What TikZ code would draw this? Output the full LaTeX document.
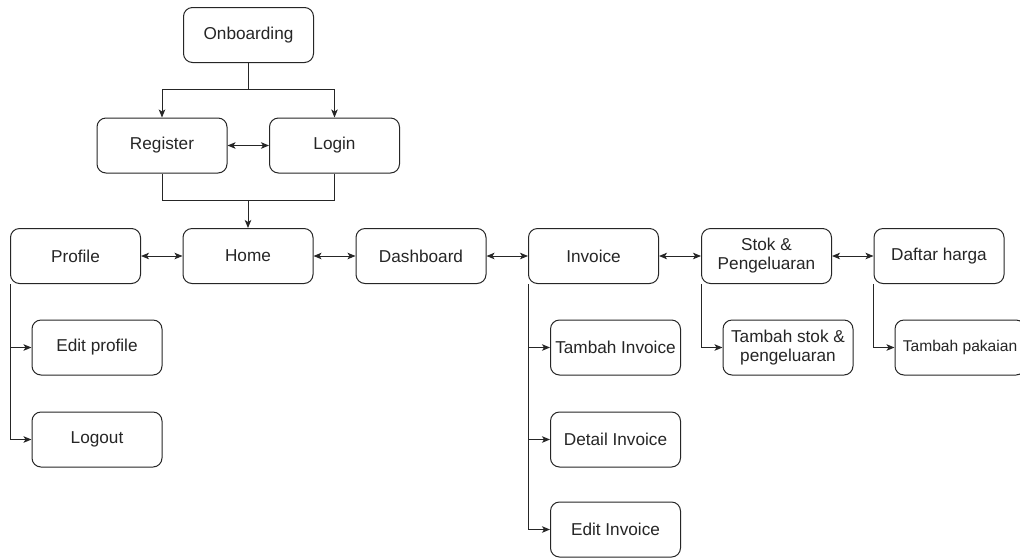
\documentclass[tikz,border=0pt]{standalone}
\usepackage{fontspec}
\setmainfont{Liberation Sans}
\usetikzlibrary{arrows.meta}
\begin{document}
\begin{tikzpicture}[x=1pt,y=-1pt,
  box/.style={draw=black!85, line width=1pt, rounded corners=9pt, minimum width=130pt, minimum height=55pt, inner sep=0pt, align=center, font=\fontsize{17.2}{19}\selectfont, text=black!85},
  conn/.style={draw=black!85, line width=1pt, -{Stealth[length=8pt,width=6.5pt,inset=2pt]}},
  biconn/.style={draw=black!85, line width=1pt, {Stealth[length=8pt,width=6.5pt,inset=2pt]}-{Stealth[length=8pt,width=6.5pt,inset=2pt]}},
  plain/.style={draw=black!85, line width=1pt}]
\useasboundingbox[fill=white] (0,0) rectangle (1020,558);
% row 1-2
\node[box] (onb) at (248.5,35) {Onboarding};
\node[box] (reg) at (162,145.5) {Register};
\node[box] (log) at (334.5,145.5) {Login};
% row 3
\node[box] (prof) at (75.5,256) {Profile};
\node[box] (home) at (248,256) {Home};
\node[box] (dash) at (421,256) {Dashboard};
\node[box] (inv) at (593.5,256) {Invoice};
\node[box] (stok) at (766.5,256) {Stok \&\\Pengeluaran};
\node[box] (harga) at (939,256) {Daftar harga};
% sub nodes
\node[box] (editp) at (97,347.5) {Edit profile};
\node[box] (logout) at (97,439.5) {Logout};
\node[box] (tinv) at (615.5,347.5) {Tambah Invoice};
\node[box] (dinv) at (615.5,439.5) {Detail Invoice};
\node[box] (einv) at (615.5,529.5) {Edit Invoice};
\node[box] (tstok) at (788,347.5) {Tambah stok \&\\pengeluaran};
\node[box, font=\fontsize{15.6}{19}\selectfont] (tpak) at (960,347.5) {Tambah pakaian};
% junctions
\coordinate (j1) at (248.5,89);
\coordinate (j2) at (248,200);
% onboarding split
\draw[plain] (onb.south) -- (j1);
\draw[conn] (j1) -| (reg.north);
\draw[conn] (j1) -| (log.north);
\draw[biconn] (reg.east) -- (log.west);
% merge to home
\draw[plain] (reg.south) |- (j2);
\draw[plain] (log.south) |- (j2);
\draw[conn] (j2) -- (home.north);
% main row
\draw[biconn] (prof.east) -- (home.west);
\draw[biconn] (home.east) -- (dash.west);
\draw[biconn] (dash.east) -- (inv.west);
\draw[biconn] (inv.east) -- (stok.west);
\draw[biconn] (stok.east) -- (harga.west);
% branches
\draw[conn] (prof.south west) |- (editp.west);
\draw[conn] (prof.south west) |- (logout.west);
\draw[conn] (inv.south west) |- (tinv.west);
\draw[conn] (inv.south west) |- (dinv.west);
\draw[conn] (inv.south west) |- (einv.west);
\draw[conn] (stok.south west) |- (tstok.west);
\draw[conn] (harga.south west) |- (tpak.west);
\end{tikzpicture}
\end{document}
